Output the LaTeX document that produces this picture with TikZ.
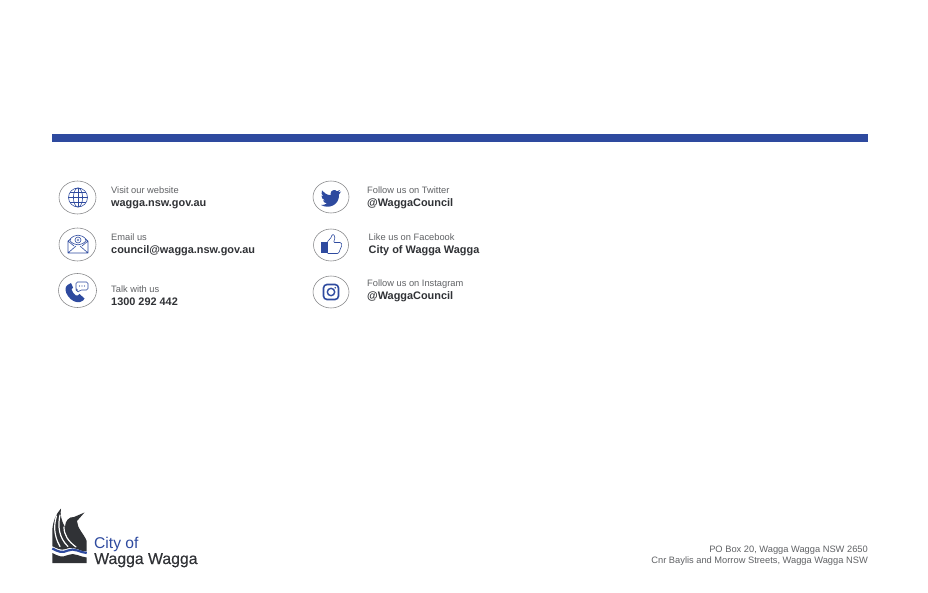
\documentclass[tikz,border=0pt]{standalone}
\usepackage{fontspec}
\setmainfont{Liberation Sans}
\newfontfamily\logofont[FakeBold=0.35]{Liberation Sans}
\definecolor{brand}{HTML}{2E4A9F}
\definecolor{ink}{HTML}{303236}
\definecolor{soft}{HTML}{606265}
\usetikzlibrary{shapes.geometric}
\tikzset{
  x=1pt,y=-1pt,
  lab/.style={anchor=base west,inner sep=0pt,text=soft,font=\fontsize{9.3}{11}\selectfont},
  val/.style={anchor=base west,inner sep=0pt,text=ink,font=\fontsize{10.9}{12}\bfseries\selectfont},
  addr/.style={anchor=base east,inner sep=0pt,text=soft,font=\fontsize{9.3}{11}\selectfont},
  ring/.style={draw=ink!60,line width=.55pt,ellipse,inner sep=0pt},
  thin icon/.style={draw=brand,line width=.6pt},
  gap/.style={draw=white,line width=1.2pt,line cap=round},
}
\begin{document}
\begin{tikzpicture}
\useasboundingbox (0,0) rectangle (928,593);
\fill[white] (0,0) rectangle (928,593);
\node[fill=brand,minimum width=816pt,minimum height=8pt,inner sep=0pt,anchor=north west] (bar) at (52,134) {};
% rings
\node[ring,minimum width=37pt,minimum height=33pt] (r1) at (77.5,197.5) {};
\node[ring,minimum width=37pt,minimum height=33pt] (r2) at (77.5,244.5) {};
\node[ring,minimum width=38pt,minimum height=34pt] (r3) at (77.5,290.5) {};
\node[ring,minimum width=36pt,minimum height=32pt] (r4) at (331,197) {};
\node[ring,minimum width=35pt,minimum height=32pt] (r5) at (331,245) {};
\node[ring,minimum width=36pt,minimum height=32pt] (r6) at (331,292) {};
% globe
\draw[thin icon] (78,197.5) circle (9.5);
\draw[thin icon] (78,197.5) ellipse (4.6 and 9.5);
\draw[thin icon] (78,188) -- (78,207) (68.5,197.5) -- (87.5,197.5) (70,192.5) -- (86,192.5) (70,202.5) -- (86,202.5);
% envelope + eye
\draw[thin icon,line join=round] (68,241) -- (68,253) -- (88,253) -- (88,241) (68,253) -- (76,246) (88,253) -- (80,246) (68,241) -- (74,246) (88,241) -- (82,246) (68,241) -- (71,239) (88,241) -- (85,239);
\draw[thin icon] (69.5,240) .. controls (74,233.5) and (82,233.5) .. (86.5,240) .. controls (82,246.5) and (74,246.5) .. (69.5,240);
\draw[thin icon] (78,240) circle (3);
\fill[brand!60] (78,240) circle (1.4);
% phone
\fill[brand] (67.5,285) .. controls (64.5,287) and (65,292) .. (68,296) .. controls (71,300.5) and (76,303) .. (80,302) .. controls (82.5,301.5) and (84,300) .. (84.5,298.5) -- (79.5,294) .. controls (78.5,295.5) and (77.5,296) .. (76,295.5) .. controls (74,294.5) and (72,291.5) .. (71.5,289.5) .. controls (71.5,288.5) and (72,288) .. (73,287.5) -- (71,283) .. controls (70,283.5) and (68.5,284) .. (67.5,285) -- cycle;
\draw[thin icon,rounded corners=1.5pt] (76,282) -- (88,282) -- (88,290) -- (80,290) -- (77.5,293) -- (77.5,290) -- (76,290) -- cycle;
\fill[brand] (79.5,286) circle (.55) (82,286) circle (.55) (84.5,286) circle (.55);
% twitter
\fill[brand] (341,191.5) .. controls (340,192.2) and (339,192.5) .. (338,192.6) .. controls (339,192) and (339.8,191) .. (340.2,190) .. controls (339.2,190.6) and (338.2,191) .. (337,191.2) .. controls (335,189) and (330.5,190) .. (330.5,194) -- (330.6,195.2) .. controls (327,195) and (324,193) .. (322,190.5) .. controls (321,192.5) and (321.5,195) .. (323.3,196.3) .. controls (322.6,196.3) and (322,196) .. (321.4,195.7) .. controls (321.4,198) and (323,199.8) .. (325,200.3) .. controls (324.4,200.5) and (323.7,200.5) .. (323,200.4) .. controls (323.6,202) and (325,203.2) .. (327,203.3) .. controls (325.3,204.6) and (323,205.2) .. (321,205) .. controls (329,209.5) and (339.5,205) .. (339,194.5) .. controls (339.7,193) and (340.5,192.5) .. (341,191.5) -- cycle;
% thumb
\fill[brand] (321,241.7) rectangle (327.5,253.5);
\draw[thin icon,line join=round,rounded corners=1pt] (327.5,241.7) -- (331.5,237) -- (332,234.5) -- (334,234.5) -- (335,238) -- (333.5,242.5) -- (341,242.5) -- (342,245) -- (338.5,253.5) -- (327.5,253.5);
% instagram
\draw[brand,line width=1.6pt,rounded corners=3.5pt] (323.5,284.5) rectangle (338.5,299.5);
\draw[brand,line width=1.4pt] (331,292) circle (3.7);
\fill[brand] (335.2,287.8) circle (.9);
% texts
\node[lab] (t1) at (111,193.7) {Visit our website};
\node[val] (v1) at (111,206.5) {wagga.nsw.gov.au};
\node[lab] (t2) at (111,241) {Email us};
\node[val] (v2) at (111,253.7) {council@wagga.nsw.gov.au};
\node[lab] (t3) at (111,292.5) {Talk with us};
\node[val] (v3) at (111,305.5) {1300 292 442};
\node[lab] (t4) at (367,193.7) {Follow us on Twitter};
\node[val] (v4) at (367,206.5) {@WaggaCouncil};
\node[lab] (t5) at (368.5,241) {Like us on Facebook};
\node[val] (v5) at (368.5,253.7) {City of Wagga Wagga};
\node[lab] (t6) at (367,287) {Follow us on Instagram};
\node[val] (v6) at (367,300) {@WaggaCouncil};
% logo silhouette
\fill[ink] (52.3,547) -- (52.3,530) .. controls (53,521) and (56,514) .. (61,508.5)
  .. controls (60,514) and (61,520) .. (65,527) .. controls (65,521) and (69,516.5) .. (74,517)
  -- (84.5,512.5) -- (77,521) .. controls (77,528) and (84,534) .. (86.7,541) -- (86.7,551.5)
  .. controls (80,552) and (74,545) .. (66,549) .. controls (61,551) and (56,548) .. (52.3,546) -- cycle;
\draw[gap] (56.5,516) .. controls (53.5,526) and (54,536) .. (60,546.5);
\draw[gap] (60,515) .. controls (57.5,526) and (59,538) .. (68,546.5);
\draw[gap] (64,527) .. controls (64,535) and (68,541) .. (76,547);
\fill[ink] (52.3,553) .. controls (58,556) and (62,558) .. (68,555) .. controls (74,552) and (80,557) .. (86.7,557.5) -- (86.7,563) -- (52.3,563) -- cycle;
\draw[brand,line width=2.2pt] (52.3,548.5) .. controls (58,551.5) and (62,553.5) .. (68,550.5) .. controls (74,547.5) and (80,552.5) .. (86.7,553);
\node[anchor=base west,inner sep=0pt,text=brand,font=\fontsize{15.6}{17}\selectfont] (c1) at (94,548.5) {City of};
\node[anchor=base west,inner sep=0pt,text=ink,font=\fontsize{15.8}{17}\logofont] (c2) at (94,564) {Wagga Wagga};
% address
\node[addr] (a1) at (868,552) {PO Box 20, Wagga Wagga NSW 2650};
\node[addr] (a2) at (868,563) {Cnr Baylis and Morrow Streets, Wagga Wagga NSW};
\end{tikzpicture}
\end{document}
